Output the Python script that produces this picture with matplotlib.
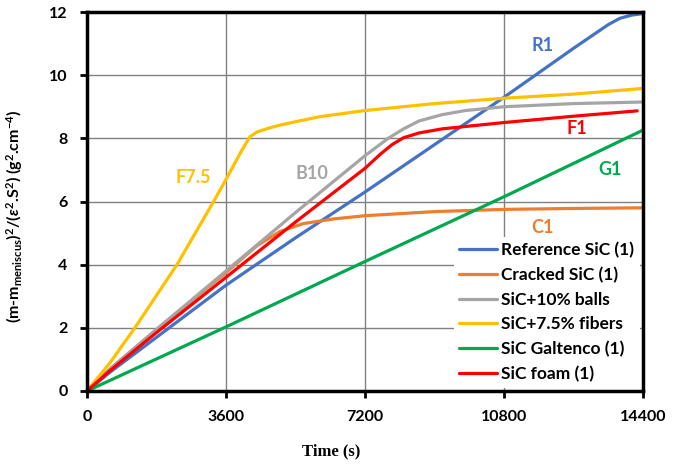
import matplotlib
matplotlib.use("Agg")
import matplotlib.pyplot as plt

# ---- data ----
ref_t = [0, 600, 1800, 3600, 5400, 7200, 9000, 10800, 12600, 13500, 13800, 14100, 14400]
ref_v = [0, 0.6, 1.7, 3.35, 4.85, 6.3, 7.8, 9.3, 10.85, 11.6, 11.8, 11.9, 11.95]

crk_t = [0, 600, 1800, 3600, 4400, 5000, 5600, 6400, 7200, 9000, 10800, 12600, 14400]
crk_v = [0, 0.7, 1.95, 3.75, 4.6, 5.05, 5.3, 5.45, 5.55, 5.68, 5.75, 5.78, 5.8]

bal_t = [0, 600, 1800, 3600, 5400, 7200, 7800, 8200, 8600, 9200, 9800, 10800, 12600, 14400]
bal_v = [0, 0.7, 1.95, 3.8, 5.65, 7.45, 8.0, 8.3, 8.55, 8.75, 8.88, 9.0, 9.1, 9.15]

fib_t = [0, 600, 1240, 2330, 3280, 3600, 4000, 4220, 4400, 4700, 5000, 6000, 7200, 9000, 10800, 12600, 14400]
fib_v = [0, 0.9, 2.0, 4.0, 6.0, 6.7, 7.6, 8.05, 8.2, 8.32, 8.42, 8.68, 8.88, 9.1, 9.27, 9.4, 9.58]

gal_t = [0, 3600, 7200, 10800, 14400]
gal_v = [0, 2.03, 4.1, 6.15, 8.26]

foa_t = [0, 600, 1800, 3600, 5400, 7200, 7600, 7900, 8200, 8600, 9200, 10800, 12600, 14250]
foa_v = [0, 0.65, 1.85, 3.6, 5.35, 7.05, 7.5, 7.8, 8.02, 8.17, 8.3, 8.5, 8.7, 8.87]

series = [
    ("Reference SiC (1)", ref_t, ref_v, "#4472C4"),
    ("Cracked SiC (1)", crk_t, crk_v, "#ED7D31"),
    ("SiC+10% balls", bal_t, bal_v, "#A5A5A5"),
    ("SiC+7.5% fibers", fib_t, fib_v, "#FFC000"),
    ("SiC Galtenco (1)", gal_t, gal_v, "#00A84F"),
    ("SiC foam (1)", foa_t, foa_v, "#FF0000"),
]

labels = ["R1", "C1", "B10", "F7.5", "G1", "F1"]
label_pos = [(11800, 10.95), (11785, 5.19), (5830, 6.9), (2745, 6.77), (13545, 7.0), (12690, 8.32)]

xticks = [0, 3600, 7200, 10800, 14400]
yticks = [0, 2, 4, 6, 8, 10, 12]

plt.rcParams['font.family'] = ['Lato', 'DejaVu Sans']
plt.rcParams['font.weight'] = 'bold'
plt.rcParams['mathtext.fontset'] = 'custom'
plt.rcParams['mathtext.rm'] = 'Lato:bold'
plt.rcParams['mathtext.it'] = 'Lato:bold:italic'
plt.rcParams['mathtext.bf'] = 'Lato:bold'

fig = plt.figure(figsize=(6.88, 4.68), dpi=100)
ax = fig.add_axes([87 / 688, 1 - 391 / 468, 556 / 688, 379 / 468])

for (name, t, v, c) in series:
    ax.plot(t, v, color=c, lw=2.3, label=name, solid_capstyle='round')

for (lab, pos, s) in zip(labels, label_pos, series):
    ax.text(pos[0], pos[1], lab, color=s[3], fontsize=13, fontweight='bold',
            ha='center', va='center')

ax.set_xlim(0, 14400)
ax.set_ylim(0, 12)
ax.set_xticks(xticks)
ax.set_yticks(yticks)
ax.grid(True, color='#808080', lw=1)
ax.set_axisbelow(True)
for sp in ax.spines.values():
    sp.set_linewidth(2.5)
    sp.set_color('black')
ax.tick_params(direction='out', length=5, width=2, labelsize=11.5, pad=9)
for lbl in ax.get_xticklabels() + ax.get_yticklabels():
    lbl.set_fontweight('bold')

ax.set_xlabel("Time (s)", fontsize=12, fontweight='bold', family='Liberation Serif')
ax.xaxis.set_label_coords(0.439, -0.138)
ax.set_ylabel(r"(m-m$_{\mathrm{meniscus}}$)$^{2}$/($\epsilon^{2}$.S$^{2}$) (g$^{2}$.cm$^{-4}$)",
              fontsize=11.5, fontweight='bold')
ax.yaxis.set_label_coords(-0.112, 0.46)

leg = ax.legend(loc='lower right', bbox_to_anchor=(1.0, 0.0), frameon=True, fancybox=False,
                edgecolor='none', facecolor='white', framealpha=1, fontsize=12.5,
                handlelength=2.2, labelspacing=0.5, handletextpad=0.25, borderpad=0.3,
                borderaxespad=0.2)
for t in leg.get_texts():
    t.set_fontweight('bold')

fig.savefig("out.png", dpi=100)
